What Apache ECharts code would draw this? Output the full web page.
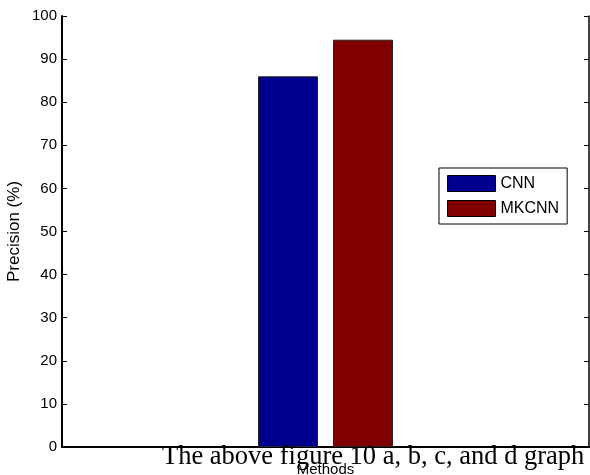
<!DOCTYPE html>
<html>
<head>
<meta charset="utf-8">
<script src="https://cdn.jsdelivr.net/npm/echarts@6/dist/echarts.min.js"></script>
<style>html,body{margin:0;padding:0;background:#fff}#c{width:590px;height:475px}</style>
</head>
<body>
<div id="c"></div>
<script>
const categories = [''];
const seriesNames = ['CNN', 'MKCNN'];
const cnnValues = [86];
const mkcnnValues = [94.5];
const seriesColors = ['#00008F', '#800000'];
const yMin = 0, yMax = 100, yStep = 10;
const xTitle = 'Methods';
const yTitle = 'Precision (%)';
const caption = 'The above figure 10 a, b, c, and d graph';

const chart = echarts.init(document.getElementById('c'), null, {renderer: 'canvas'});
const font = 'Liberation Sans, Arial, sans-serif';
const seriesValues = [cnnValues, mkcnnValues];
chart.setOption({
  animation: false,
  grid: {left: 62, right: 1, top: 16, bottom: 28, containLabel: false, outerBoundsMode: 'none'},
  legend: {
    orient: 'vertical', left: 439, top: 168,
    data: seriesNames,
    icon: 'rect',
    itemWidth: 48, itemHeight: 16, itemGap: 8,
    padding: [7, 8, 7, 8],
    borderColor: '#000', borderWidth: 1,
    textStyle: {fontFamily: font, fontSize: 16, color: '#000'},
    itemStyle: {borderColor: '#000', borderWidth: 1}
  },
  xAxis: [{
    type: 'category', data: categories, position: 'bottom',
    name: xTitle, nameLocation: 'middle', nameGap: 15, nameMoveOverlap: false,
    nameTextStyle: {fontFamily: font, fontSize: 15, color: '#000'},
    axisLine: {lineStyle: {color: '#000', width: 2}},
    axisTick: {inside: true, alignWithLabel: true, length: 5, lineStyle: {color: '#000'}},
    axisLabel: {show: false}
  }, {
    type: 'category', data: categories, position: 'top',
    axisLine: {lineStyle: {color: '#000', width: 1.5}},
    axisTick: {inside: true, alignWithLabel: true, length: 5, lineStyle: {color: '#000'}},
    axisLabel: {show: false}
  }],
  yAxis: [{
    type: 'value', min: yMin, max: yMax, interval: yStep, position: 'left',
    name: yTitle, nameLocation: 'middle', nameGap: 39, nameMoveOverlap: false,
    nameTextStyle: {fontFamily: font, fontSize: 17, color: '#000'},
    axisLine: {show: true, lineStyle: {color: '#000', width: 2}},
    axisTick: {show: true, inside: true, length: 5, lineStyle: {color: '#000'}},
    axisLabel: {fontFamily: font, fontSize: 15, color: '#000', margin: 5},
    splitLine: {show: false}
  }, {
    type: 'value', min: yMin, max: yMax, interval: yStep, position: 'right',
    axisLine: {show: true, lineStyle: {color: '#000', width: 1.5}},
    axisTick: {show: true, inside: true, length: 5, lineStyle: {color: '#000'}},
    axisLabel: {show: false},
    splitLine: {show: false}
  }],
  series: seriesNames.map((n, i) => ({
    name: n, type: 'bar', data: seriesValues[i],
    barWidth: 60, barGap: '25%',
    itemStyle: {color: seriesColors[i], borderColor: '#222', borderWidth: 1}
  })),
  graphic: [{
    type: 'text', left: 162, top: 444, z: 100,
    style: {text: caption, font: '26.5px "Liberation Serif", "Times New Roman", serif', fill: '#000'}
  }]
});
</script>
</body>
</html>
